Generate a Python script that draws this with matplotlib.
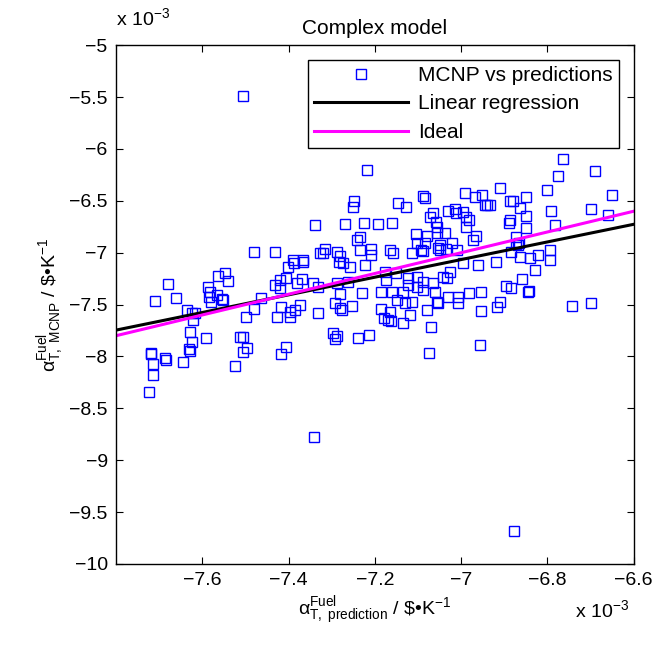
import numpy as np
import matplotlib
matplotlib.use("Agg")
import matplotlib.pyplot as plt

# valores em unidades de 1e-3 ($/K)
pred = [-7.679, -7.709, -7.661, -7.636, -7.624, -7.622, -7.629, -7.624, -7.630, -7.629,
        -7.720, -7.718, -7.714, -7.714, -7.686, -7.684, -7.645, -7.723,
        -7.547, -7.564, -7.540, -7.588, -7.582, -7.584, -7.581, -7.567, -7.555, -7.552,
        -7.617, -7.592, -7.499, -7.480, -7.465, -7.513, -7.506, -7.497, -7.505, -7.524,
        -7.428, -7.418, -7.397, -7.397, -7.385, -7.374, -7.405, -7.418, -7.432, -7.420,
        -7.420, -7.401, -7.388, -7.366, -7.405, -7.380, -7.368, -7.344, -7.331, -7.331,
        -7.339, -7.480, -7.432, -7.389, -7.367, -7.327,
        -7.219, -7.249, -7.250, -7.147, -7.129, -7.088, -7.084, -7.073, -7.065, -7.270,
        -7.226, -7.192, -7.161, -7.105, -7.080, -7.057, -7.235, -7.242, -7.316, -7.320,
        -7.289, -7.281, -7.235, -7.208, -7.208, -7.165, -7.158, -7.115, -7.092, -7.088,
        -7.084, -7.103, -7.053,
        -7.283, -7.274, -7.258, -7.223, -7.289, -7.281, -7.262, -7.231, -7.293, -7.281,
        -7.276, -7.254, -7.297, -7.289, -7.293, -7.239, -7.214, -7.175, -7.177, -7.185,
        -7.161, -7.187, -7.165, -7.179, -7.169, -7.163, -7.148, -7.134, -7.134, -7.119,
        -7.131, -7.115, -7.123, -7.123, -7.103, -7.103, -7.088, -7.088, -7.065, -7.061,
        -7.057, -7.080, -7.069, -7.075, -7.150,
        -6.764, -6.776, -6.801, -6.911, -6.992, -6.968, -6.951, -6.945, -6.940, -6.933,
        -6.850, -6.887, -6.880, -6.864, -6.849, -6.887, -6.889, -6.849, -6.872, -6.791,
        -6.783, -7.030, -7.015, -7.011, -6.996, -6.988, -6.982, -6.988, -6.965, -7.038,
        -7.058, -7.055, -7.022, -7.049, -6.872, -6.866,
        -6.795, -6.795, -6.822, -6.841, -6.864, -6.884, -6.868, -6.829, -6.858, -6.744,
        -6.897, -6.884, -6.845, -6.842, -6.953, -6.982, -6.911, -6.918, -6.953, -7.007,
        -7.007, -7.030, -7.053, -6.960, -6.920, -6.996, -7.034, -7.042, -7.026, -7.050,
        -7.035, -7.010, -6.957, -6.973,
        -7.506, -7.341, -6.878, -6.690, -6.650, -6.700, -6.660, -6.700]

mcnp = [-7.300, -7.463, -7.437, -7.553, -7.585, -7.650, -7.765, -7.858, -7.930, -7.950,
        -7.964, -7.975, -8.073, -8.180, -8.010, -8.030, -8.050, -8.346,
        -7.200, -7.220, -7.270, -7.330, -7.377, -7.425, -7.473, -7.408, -7.450, -7.460,
        -7.585, -7.820, -7.617, -7.543, -7.440, -7.810, -7.810, -7.920, -7.960, -8.090,
        -7.617, -7.520, -7.570, -7.623, -7.553, -7.505, -7.906, -7.977, -7.312, -7.264,
        -7.344, -7.136, -7.097, -7.087, -7.248, -7.290, -7.257, -7.290, -7.330, -7.580,
        -6.734, -6.990, -6.990, -7.070, -7.070, -7.007,
        -6.204, -6.500, -6.558, -6.520, -6.558, -6.455, -6.477, -6.654, -6.620, -6.727,
        -6.712, -6.727, -6.712, -6.820, -6.840, -6.814, -6.847, -6.879, -6.968, -7.000,
        -6.990, -7.030, -6.975, -6.968, -7.023, -6.975, -7.000, -7.007, -6.975, -6.985,
        -6.910, -6.910, -6.958,
        -7.087, -7.103, -7.136, -7.120, -7.296, -7.399, -7.280, -7.386, -7.488, -7.537,
        -7.550, -7.515, -7.772, -7.803, -7.835, -7.820, -7.794, -7.264, -7.184, -7.377,
        -7.377, -7.546, -7.570, -7.633, -7.650, -7.655, -7.457, -7.377, -7.681, -7.600,
        -7.488, -7.473, -7.248, -7.312, -7.232, -7.330, -7.360, -7.280, -7.296, -7.377,
        -7.473, -7.553, -7.720, -7.970, -7.200,
        -6.100, -6.262, -6.397, -6.380, -6.429, -6.461, -6.445, -6.540, -6.540, -6.540,
        -6.461, -6.500, -6.500, -6.573, -6.647, -6.680, -6.718, -6.766, -6.853, -6.596,
        -6.734, -6.596, -6.583, -6.620, -6.606, -6.654, -6.680, -6.750, -6.840, -6.814,
        -6.700, -6.750, -6.910, -6.927, -6.915, -6.905,
        -6.975, -7.070, -7.023, -7.055, -7.040, -6.990, -6.927, -7.168, -7.257, -7.510,
        -7.320, -7.344, -7.377, -7.370, -7.377, -7.393, -7.473, -7.520, -7.560, -7.430,
        -7.480, -7.430, -7.480, -7.120, -7.088, -7.103, -7.248, -7.232, -7.184, -6.970,
        -6.965, -6.970, -7.893, -6.880,
        -5.490, -8.776, -9.680, -6.210, -6.440, -6.580, -6.640, -7.480]

# regressão linear
fit_slope = 0.85
fit_intercept = -1.116

x_ticks = [-7.6, -7.4, -7.2, -7.0, -6.8, -6.6]
x_labels = ['\u22127.6', '\u22127.4', '\u22127.2', '\u22127', '\u22126.8', '\u22126.6']
y_ticks = [-5, -5.5, -6, -6.5, -7, -7.5, -8, -8.5, -9, -9.5, -10]
y_labels = ['\u22125', '\u22125.5', '\u22126', '\u22126.5', '\u22127', '\u22127.5',
            '\u22128', '\u22128.5', '\u22129', '\u22129.5', '\u221210']

plt.rcParams['font.family'] = ['Liberation Sans', 'DejaVu Sans']
plt.rcParams['mathtext.fontset'] = 'custom'
plt.rcParams['mathtext.rm'] = 'Liberation Sans'
plt.rcParams['mathtext.it'] = 'Liberation Sans'
plt.rcParams['mathtext.bf'] = 'Liberation Sans:bold'

fig = plt.figure(figsize=(6.52, 6.46), dpi=100)
ax = fig.add_axes([0.178, 0.127, 0.794, 0.803])

ax.plot(pred, mcnp, 's', mfc='none', mec='#0000ff', ms=7.5, mew=1.0,
        label='MCNP vs predictions')

xl = np.array([-7.8, -6.6])
ax.plot(xl, fit_slope * xl + fit_intercept, color='black', lw=2.2,
        label='Linear regression')
ax.plot(xl, xl, color='#ff00ff', lw=2.2, label='Ideal')

ax.set_xlim(-7.8, -6.6)
ax.set_ylim(-10, -5)
ax.set_xticks(x_ticks)
ax.set_xticklabels(x_labels)
ax.set_yticks(y_ticks)
ax.set_yticklabels(y_labels)
ax.tick_params(direction='in', top=True, right=True, labelsize=14, length=5, pad=6)
for s in ax.spines.values():
    s.set_linewidth(1.0)

unidade = ' / \\$\u2022K$\\mathregular{^{-1}}$'
ax.set_title('Complex model', fontsize=15, pad=8)
ax.set_xlabel(r'$\mathregular{\alpha^{Fuel}_{T,\ prediction}}$' + unidade,
              fontsize=14, labelpad=4)
ax.set_ylabel(r'$\mathregular{\alpha^{Fuel}_{T,\ MCNP}}$' + unidade,
              fontsize=14, labelpad=2)

fig.text(0.178, 0.955, r'x 10$\mathregular{^{-3}}$', fontsize=14, ha='left', va='bottom')
fig.text(0.965, 0.072, r'x 10$\mathregular{^{-3}}$', fontsize=14, ha='right', va='top')

leg = ax.legend(loc='upper right', fontsize=15, frameon=True, fancybox=False,
                edgecolor='black', framealpha=1, borderaxespad=0.7,
                handlelength=4.5, handletextpad=0.5, borderpad=0.3, labelspacing=0.45)
leg.get_frame().set_linewidth(1.0)

fig.savefig('out.png', dpi=100)
